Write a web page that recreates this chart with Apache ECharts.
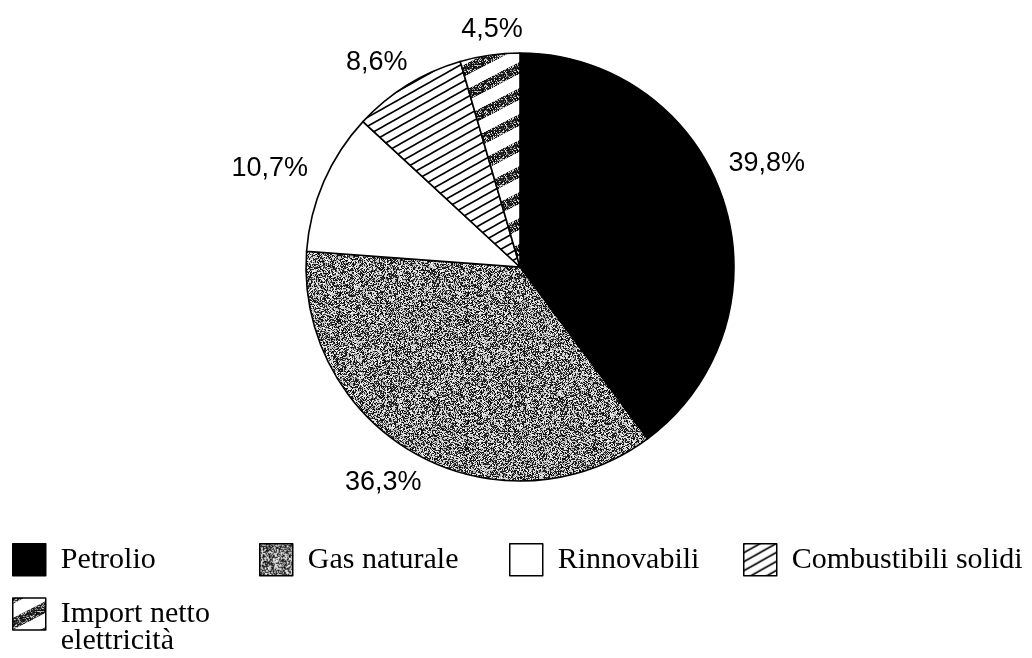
<!DOCTYPE html>
<html><head><meta charset="utf-8">
<script src="https://cdn.jsdelivr.net/npm/echarts@6/dist/echarts.min.js"></script>
<style>html,body{margin:0;padding:0;background:#fff}#c{width:1032px;height:658px}</style>
</head><body><div id="c"></div>
<script>
// ---- data ----
const categories = ['Petrolio', 'Gas naturale', 'Rinnovabili', 'Combustibili solidi', 'Import netto elettricità'];
const shares = [39.8, 36.3, 10.7, 8.6, 4.5];

// ---- layout / style (kept separate from the data) ----
const labelNudge = [[-14, -32], [17, 15], [3, -7], [13, -10], [40, -11]];
const legendPos = [[12, 543], [259, 543], [509, 543], [743, 543], [12, 572]];

function hash(x, y, s) {
  const v = Math.sin(x * 12.9898 + y * 78.233 + s * 37.719) * 43758.5453;
  return v - Math.floor(v);
}
function noiseTile(size, darkProb, seed) {
  const c = document.createElement('canvas'); c.width = c.height = size;
  const ctx = c.getContext('2d'); const img = ctx.createImageData(size, size);
  for (let y = 0; y < size; y++) for (let x = 0; x < size; x++) {
    const h = hash(x, y, seed);
    const g = h < darkProb ? Math.floor(hash(y, x, seed + 1) * 70) : 165 + Math.floor(hash(y, x, seed + 2) * 90);
    const i = (y * size + x) * 4;
    img.data[i] = img.data[i + 1] = img.data[i + 2] = g; img.data[i + 3] = 255;
  }
  ctx.putImageData(img, 0, 0); return c;
}
function stripeTile(W, H, lw, stipple, seed) {
  const c = document.createElement('canvas'); c.width = W; c.height = H;
  const ctx = c.getContext('2d');
  ctx.fillStyle = '#fff'; ctx.fillRect(0, 0, W, H);
  ctx.strokeStyle = '#000'; ctx.lineWidth = lw; ctx.lineCap = 'butt';
  for (let n = -1; n <= 3; n++) {
    ctx.beginPath();
    ctx.moveTo(-W, n * H + H); ctx.lineTo(2 * W, n * H - 2 * H);
    ctx.stroke();
  }
  if (stipple) {
    const img = ctx.getImageData(0, 0, W, H);
    for (let y = 0; y < H; y++) for (let x = 0; x < W; x++) {
      const i = (y * W + x) * 4;
      if (img.data[i] < 128) {
        const g = hash(x, y, seed) < stipple ? Math.floor(hash(y, x, seed + 3) * 60) : 150 + Math.floor(hash(y, x, seed + 4) * 90);
        img.data[i] = img.data[i + 1] = img.data[i + 2] = g;
      }
    }
    ctx.putImageData(img, 0, 0);
  }
  return c;
}

const fills = [
  '#000000',
  { image: noiseTile(128, 0.47, 1), repeat: 'repeat' },
  '#ffffff',
  { image: stripeTile(16, 9, 1.6, 0, 0), repeat: 'repeat' },
  { image: stripeTile(50, 26, 10, 0.72, 5), repeat: 'repeat' }
];

const chart = echarts.init(document.getElementById('c'), null, { renderer: 'canvas', width: 1032, height: 658 });

const legends = categories.map((name, i) => ({
  data: [name],
  left: legendPos[i][0],
  top: legendPos[i][1],
  padding: 0,
  icon: 'rect',
  itemWidth: 33,
  itemHeight: 32,
  selectedMode: false,
  itemStyle: { borderColor: '#000', borderWidth: 1.5 },
  // two-line label: a leading empty line keeps the first text line level with the swatch
  formatter: n => (n.indexOf('netto ') >= 0 ? '\n' + n.replace('netto ', 'netto\n') : n),
  textStyle: { fontFamily: 'Liberation Serif', fontSize: 30, color: '#000', lineHeight: 27, padding: [0, 0, 0, 10] }
}));

chart.setOption({
  backgroundColor: '#ffffff',
  animation: false,
  legend: legends,
  series: [{
    type: 'pie',
    center: [520, 267],
    radius: 214,
    startAngle: 90,
    clockwise: true,
    avoidLabelOverlap: false,
    emphasis: { disabled: true },
    itemStyle: { borderColor: '#000', borderWidth: 1.6 },
    label: {
      show: true,
      position: 'outside',
      formatter: p => String(p.value).replace('.', ',') + '%',
      fontFamily: 'Liberation Sans',
      fontSize: 27,
      color: '#000',
      distanceToLabelLine: 5
    },
    labelLine: { show: false, length: 15, length2: 0 },
    labelLayout: p => ({ dx: labelNudge[p.dataIndex][0], dy: labelNudge[p.dataIndex][1] }),
    data: categories.map((n, i) => ({ name: n, value: shares[i], itemStyle: { color: fills[i] } }))
  }]
});
</script>
</body></html>
